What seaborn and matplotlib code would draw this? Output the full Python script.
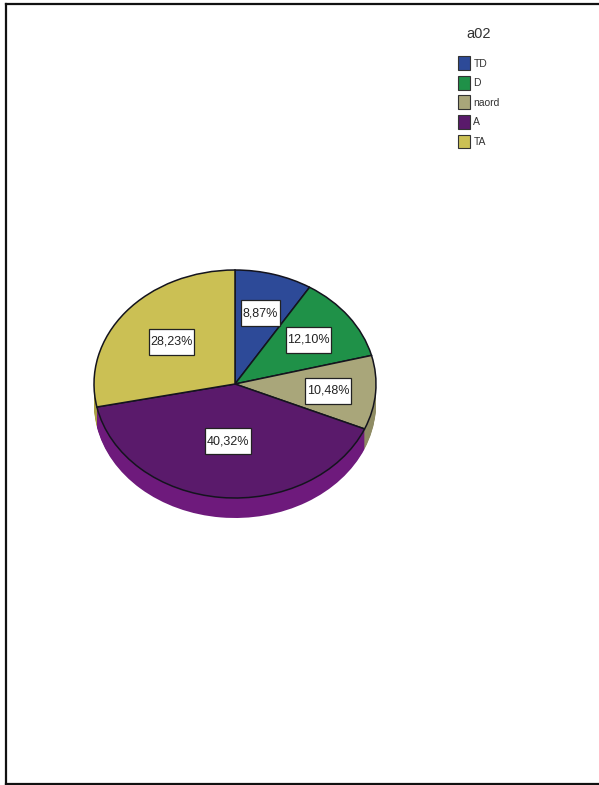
import matplotlib
matplotlib.use("Agg")
import matplotlib.pyplot as plt
from matplotlib.path import Path
import numpy as np
import seaborn as sns

categories = ["TD", "D", "naord", "A", "TA"]
percentages = [8.87, 12.10, 10.48, 40.32, 28.23]
legend_title = "a02"
top_colors = ["#2d4a98", "#1f9148", "#a9a67a", "#5a1a6b", "#cbc054"]
side_colors = ["#243b7a", "#187339", "#8f8c64", "#6e1a7c", "#a89f44"]
# label centres, as fractions of the pie's horizontal and vertical radii
label_anchors = [(0.18, 0.62), (0.52, 0.39), (0.66, -0.06), (-0.05, -0.50), (-0.45, 0.37)]

sns.set_theme(style="white")
plt.rcParams["font.family"] = ["Liberation Sans", "DejaVu Sans"]

W, H = 599, 785
fig = plt.figure(figsize=(W / 100, H / 100), dpi=100, facecolor="white")

# page frame: open on the right-hand side
frame = fig.add_axes([6 / W, 1 / H, (W - 6) / W, 780 / H])
frame.set_xticks([])
frame.set_yticks([])
sns.despine(ax=frame, right=True, top=False, left=False, bottom=False)
for side in ("left", "top", "bottom"):
    frame.spines[side].set_color("#111111")
    frame.spines[side].set_linewidth(1.6)

# pie axes: 141 px by 114 px radii, extruded by 20 px
RX, RY, DEPTH = 141, 114, 20
cx, cy = 235, 384
ax = fig.add_axes([(cx - RX) / W, (H - cy - RY - DEPTH) / H, 2 * RX / W, (2 * RY + DEPTH) / H])
depth = DEPTH / RY

palette = sns.color_palette(top_colors)
side_palette = sns.color_palette(side_colors)

# extruded rim: same slices stacked downwards
for off in np.linspace(depth, 0, DEPTH + 1):
    ax.pie(percentages, colors=side_palette, startangle=90, counterclock=False,
           center=(0, -off), radius=1, wedgeprops={"linewidth": 0})

wedges, _ = ax.pie(percentages, colors=palette, startangle=90, counterclock=False,
                   center=(0, 0), radius=1,
                   wedgeprops={"edgecolor": "#14141e", "linewidth": 1.1})
ax.set_aspect("auto")
ax.set_xlim(-1, 1)
ax.set_ylim(-1 - depth, 1)
ax.axis("off")


def tall_box(x0, y0, width, height, mutation_size):
    """Label box with tight sides and generous space above and below the text."""
    pad_x, pad_y = 1.5, 7.0
    x1, y1 = x0 + width + pad_x, y0 + height + pad_y
    x0, y0 = x0 - pad_x, y0 - pad_y
    return Path([(x0, y0), (x1, y0), (x1, y1), (x0, y1), (x0, y0)], closed=True)


for value, (ux, uy) in zip(percentages, label_anchors):
    ax.text(ux, uy, f"{value:.2f}%".replace(".", ","), ha="center", va="center",
            fontsize=9, color="#222222", zorder=10,
            bbox={"boxstyle": tall_box, "facecolor": "white",
                  "edgecolor": "#222222", "linewidth": 0.9})

fig.text(479 / W, 1 - 34 / H, legend_title, ha="center", va="center",
         fontsize=10.5, color="#333333")
legend = fig.legend(wedges, categories,
                    loc="upper left", bbox_to_anchor=(450 / W, 1 - 48 / H),
                    frameon=False, fontsize=7.5,
                    handlelength=1.1, handleheight=1.65, handletextpad=0.35,
                    labelspacing=0.56, borderpad=0.3)
for handle in legend.legend_handles:
    handle.set_edgecolor("#333333")
    handle.set_linewidth(0.8)
for t in legend.get_texts():
    t.set_color("#333333")

fig.savefig("out.png", dpi=100, facecolor="white")
